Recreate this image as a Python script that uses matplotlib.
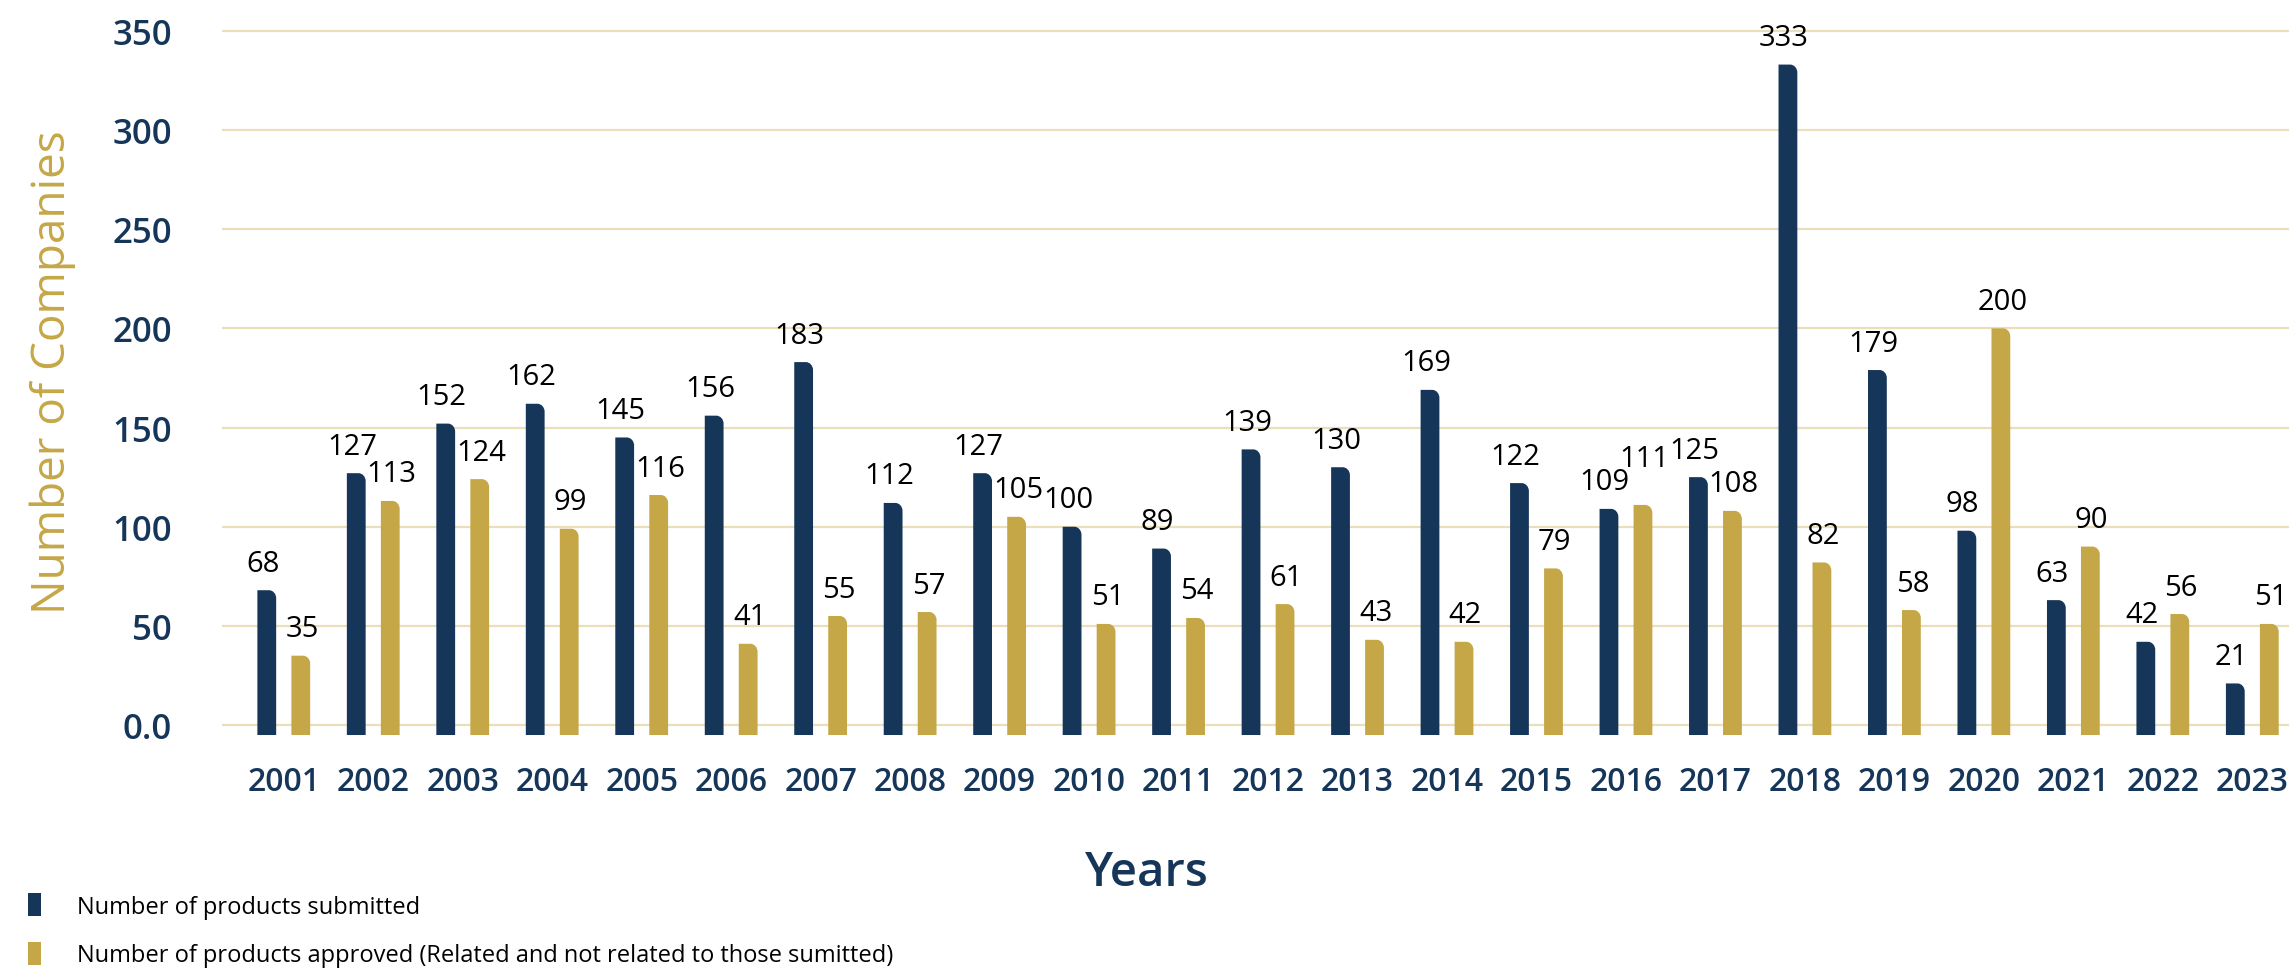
import matplotlib
matplotlib.use("Agg")
import matplotlib.pyplot as plt
from matplotlib.patches import PathPatch, Patch
from matplotlib.path import Path
import numpy as np

years = ["2001", "2002", "2003", "2004", "2005", "2006", "2007", "2008", "2009", "2010", "2011", "2012",
         "2013", "2014", "2015", "2016", "2017", "2018", "2019", "2020", "2021", "2022", "2023"]
submitted = [68, 127, 152, 162, 145, 156, 183, 112, 127, 100, 89, 139, 130, 169, 122, 109, 125, 333, 179, 98, 63, 42, 21]
approved = [35, 113, 124, 99, 116, 41, 55, 57, 105, 51, 54, 61, 43, 42, 79, 111, 108, 82, 58, 200, 90, 56, 51]
ytick_vals = [0, 50, 100, 150, 200, 250, 300, 350]
ytick_labels = ["0.0", "50", "100", "150", "200", "250", "300", "350"]

NAVY = "#153559"
GOLD = "#C5A747"
GRID = "#EADFB8"
BASE = -5  # bars run a little below the zero line

sans = ["Open Sans", "DejaVu Sans"]


def rounded_bar(ax, x, w, y0, y1, color, rx, ry):
    # rectangle with the top-right corner rounded
    k = 0.55
    verts = [(x, y0), (x + w, y0), (x + w, y1 - ry),
             (x + w, y1 - ry + k * ry), (x + w - rx + k * rx, y1), (x + w - rx, y1),
             (x, y1), (x, y0)]
    codes = [Path.MOVETO, Path.LINETO, Path.LINETO,
             Path.CURVE4, Path.CURVE4, Path.CURVE4,
             Path.LINETO, Path.CLOSEPOLY]
    ax.add_patch(PathPatch(Path(verts, codes), facecolor=color, edgecolor="none", zorder=3))


fig = plt.figure(figsize=(22.89, 9.78), dpi=100)
ax = fig.add_axes([0.097, 0.2454, 0.903, 0.7342])

x = np.arange(len(years))
w = 0.21
off = 0.19
for i in range(len(years)):
    s, a = submitted[i], approved[i]
    rounded_bar(ax, x[i] - off - w / 2, w, BASE, s, NAVY, 0.08, 4)
    rounded_bar(ax, x[i] + off - w / 2, w, BASE, a, GOLD, 0.08, 4)
    # lift the taller label when the two are close so they don't collide
    close = abs(s - a) < 12
    ds = 14 if close and s >= a else 0
    da = 14 if close and a > s else 0
    ax.annotate(str(s), (x[i] - off, s), xytext=(-3, 9 + ds), textcoords="offset points",
                ha="center", va="bottom", fontsize=21, family=sans, color="black")
    ax.annotate(str(a), (x[i] + off, a), xytext=(1, 9 + da), textcoords="offset points",
                ha="center", va="bottom", fontsize=21, family=sans, color="black")

ax.set_xlim(-0.69, 22.41)
ax.set_ylim(-6, 356)
ax.set_yticks(ytick_vals)
ax.set_yticklabels(ytick_labels)
ax.set_xticks(x)
ax.set_xticklabels(years)
for lab in ax.get_yticklabels() + ax.get_xticklabels():
    lab.set_family(sans)
    lab.set_color(NAVY)
    lab.set_fontweight("semibold")
for lab in ax.get_yticklabels():
    lab.set_fontsize(25)
for lab in ax.get_xticklabels():
    lab.set_fontsize(23)
ax.tick_params(axis="both", length=0)
ax.tick_params(axis="y", pad=36)
ax.tick_params(axis="x", pad=20)
ax.grid(axis="y", color=GRID, linewidth=1.6, zorder=0)
ax.set_axisbelow(True)
for sp in ax.spines.values():
    sp.set_visible(False)

fig.text(0.023, 0.62, "Number of Companies", rotation=90, ha="center", va="center",
         fontsize=33, color=GOLD, family=sans)
fig.text(0.501, 0.107, "Years", ha="center", va="center", fontsize=34, color=NAVY,
         family=sans, fontweight="semibold")

handles = [Patch(facecolor=NAVY, edgecolor="none"), Patch(facecolor=GOLD, edgecolor="none")]
fig.legend(handles, ["Number of products submitted",
                     "Number of products approved (Related and not related to those sumitted)"],
           loc="lower left", bbox_to_anchor=(0.003, -0.012), frameon=False, handlelength=0.55,
           handleheight=1.1, handletextpad=1.5, labelspacing=1.0, prop={"family": sans, "size": 17})

fig.savefig("out.png", dpi=100)
